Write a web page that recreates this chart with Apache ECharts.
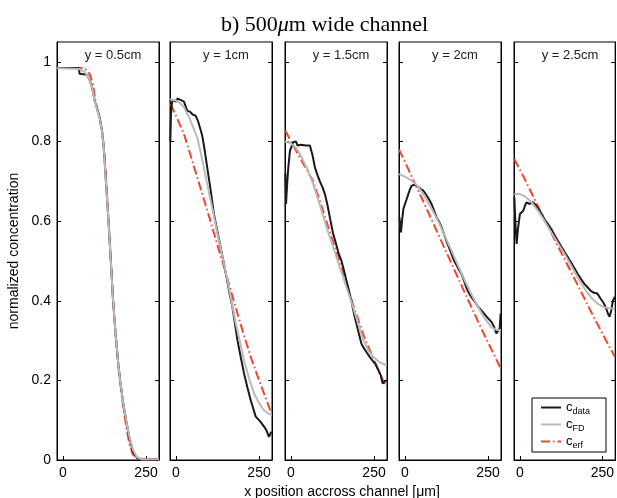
<!DOCTYPE html>
<html>
<head>
<meta charset="utf-8">
<script src="https://cdn.jsdelivr.net/npm/echarts@6/dist/echarts.min.js"></script>
<style>
  html, body { margin: 0; padding: 0; background: #fff; }
  #chart { width: 617px; height: 498px; }
</style>
</head>
<body>
<div id="chart"></div>
<script>
// labels and ticks
var panelLabels = ["y = 0.5cm", "y = 1cm", "y = 1.5cm", "y = 2cm", "y = 2.5cm"];
var xTicks = [0, 250];
var yTicks = [0, 0.2, 0.4, 0.6, 0.8, 1];

// y = 0.5cm   [x position (um), normalized concentration]
var data05 = [[-18,0.985],[48,0.985],[50,0.97],[72,0.968],[80,0.955],[88,0.935],[96,0.9],[104,0.88],[112,0.855],[118,0.825],[124,0.77],[130,0.69],[137,0.6],[144,0.5],[150,0.41],[158,0.32],[166,0.245],[172,0.2],[181,0.145],[190,0.1],[200,0.055],[211,0.02],[223,0.005],[235,0.002],[289,0.002]];
var fd05 = [[-18,0.984],[50,0.982],[65,0.975],[78,0.96],[88,0.935],[96,0.9],[104,0.878],[112,0.853],[118,0.823],[124,0.77],[130,0.69],[137,0.6],[144,0.5],[150,0.41],[158,0.32],[166,0.245],[172,0.2],[181,0.145],[190,0.1],[200,0.058],[211,0.025],[223,0.007],[235,0.002],[289,0.002]];
var erf05 = [[-18,0.985],[60,0.985],[70,0.98],[80,0.97],[90,0.945],[98,0.9],[106,0.87],[114,0.84],[120,0.81],[126,0.76],[132,0.68],[138,0.59],[145,0.49],[151,0.4],[159,0.31],[167,0.235],[173,0.19],[182,0.13],[190,0.085],[200,0.04],[210,0.014],[220,0.004],[230,0.001],[289,0.001]];

// y = 1cm
var data10 = [[-17,0.8],[-15,0.87],[-12,0.898],[-8,0.905],[0,0.9],[5,0.908],[12,0.905],[18,0.908],[24,0.9],[29,0.895],[34,0.877],[42,0.875],[50,0.868],[59,0.865],[66,0.852],[72,0.835],[79,0.815],[86,0.78],[94,0.735],[104,0.68],[114,0.619],[124,0.577],[134,0.535],[144,0.495],[154,0.451],[162,0.415],[170,0.384],[177,0.345],[185,0.301],[195,0.258],[205,0.217],[215,0.182],[225,0.15],[233,0.128],[240,0.109],[250,0.1],[258,0.092],[265,0.084],[272,0.075],[280,0.058],[284,0.057],[287,0.071]];
var fd10 = [[-18,0.906],[0,0.903],[10,0.898],[24,0.886],[40,0.86],[52,0.835],[64,0.81],[79,0.755],[94,0.693],[110,0.63],[125,0.568],[140,0.51],[155,0.451],[168,0.395],[180,0.343],[193,0.295],[205,0.25],[220,0.205],[235,0.167],[250,0.143],[265,0.125],[278,0.117],[289,0.113]];
var erf10 = [[-16,0.894],[4,0.857],[24,0.819],[44,0.765],[64,0.71],[84,0.655],[104,0.6],[124,0.542],[145,0.484],[165,0.426],[185,0.368],[205,0.312],[225,0.259],[245,0.212],[265,0.167],[278,0.138],[287,0.117]];

// y = 1.5cm
var data15 = [[-17,0.72],[-15,0.643],[-11,0.7],[-8,0.735],[-3,0.777],[7,0.799],[15,0.8],[20,0.79],[30,0.792],[45,0.79],[57,0.79],[65,0.765],[72,0.735],[80,0.715],[87,0.7],[95,0.685],[102,0.668],[110,0.64],[118,0.605],[127,0.568],[135,0.545],[143,0.52],[152,0.5],[160,0.475],[167,0.45],[172,0.434],[182,0.398],[192,0.359],[202,0.325],[212,0.292],[220,0.28],[228,0.27],[237,0.259],[245,0.25],[255,0.24],[263,0.226],[270,0.213],[276,0.192],[280,0.187],[286,0.2]];
var fd15 = [[-18,0.8],[0,0.795],[14,0.785],[27,0.769],[47,0.735],[67,0.693],[87,0.64],[107,0.585],[127,0.535],[147,0.484],[167,0.434],[187,0.384],[203,0.34],[218,0.301],[233,0.275],[248,0.259],[268,0.245],[288,0.238]];
var erf15 = [[-17,0.827],[10,0.785],[40,0.74],[67,0.7],[95,0.63],[122,0.56],[150,0.49],[187,0.39],[220,0.31],[245,0.26],[267,0.217],[287,0.184]];

// y = 2cm
var data20 = [[-17,0.61],[-12,0.572],[-9,0.6],[-5,0.63],[0,0.643],[5,0.655],[10,0.668],[15,0.68],[20,0.689],[25,0.692],[32,0.692],[40,0.686],[48,0.68],[55,0.677],[65,0.665],[72,0.655],[80,0.643],[88,0.625],[95,0.61],[102,0.6],[110,0.585],[118,0.566],[125,0.55],[132,0.535],[140,0.518],[148,0.5],[155,0.49],[162,0.478],[170,0.468],[178,0.45],[185,0.432],[192,0.42],[200,0.409],[210,0.398],[220,0.385],[230,0.376],[240,0.366],[250,0.356],[260,0.347],[268,0.335],[275,0.318],[280,0.315],[285,0.33],[288,0.368]];
var fd20 = [[-18,0.718],[0,0.712],[20,0.702],[38,0.688],[55,0.668],[78,0.635],[100,0.6],[120,0.563],[140,0.526],[160,0.488],[180,0.451],[200,0.416],[220,0.384],[240,0.356],[260,0.334],[275,0.327],[289,0.326]];
var erf20 = [[-18,0.78],[5,0.74],[30,0.694],[55,0.65],[80,0.604],[105,0.558],[130,0.512],[155,0.466],[180,0.42],[205,0.375],[230,0.33],[255,0.287],[275,0.252],[289,0.228]];

// y = 2.5cm
var data25 = [[-17,0.66],[-14,0.6],[-10,0.543],[-6,0.58],[0,0.618],[5,0.622],[10,0.626],[15,0.638],[20,0.647],[25,0.645],[30,0.643],[38,0.648],[45,0.643],[52,0.635],[60,0.626],[70,0.612],[78,0.6],[85,0.593],[95,0.58],[105,0.565],[115,0.551],[125,0.537],[135,0.523],[145,0.51],[155,0.496],[165,0.482],[175,0.468],[185,0.455],[195,0.443],[205,0.434],[215,0.425],[225,0.42],[235,0.418],[245,0.405],[255,0.393],[262,0.38],[267,0.368],[272,0.36],[277,0.375],[282,0.4],[288,0.41]];
var fd25 = [[-17,0.668],[0,0.668],[15,0.662],[35,0.648],[55,0.626],[75,0.6],[95,0.572],[115,0.545],[135,0.518],[155,0.489],[175,0.459],[195,0.432],[215,0.409],[235,0.393],[255,0.384],[270,0.381],[288,0.38]];
var erf25 = [[-17,0.756],[15,0.705],[55,0.637],[95,0.57],[135,0.505],[175,0.44],[215,0.374],[255,0.31],[288,0.259]];

var panelData = [data05, data10, data15, data20, data25];
var panelFD = [fd05, fd10, fd15, fd20, fd25];
var panelErf = [erf05, erf10, erf15, erf20, erf25];

var FONT = "Liberation Sans, Arial, sans-serif";
var panelLeft = [57, 170, 285, 399, 514];
var panelWidth = 102;

var grids = [], xAxes = [], yAxes = [], series = [];
var titles = [
  {
    text: "{a|b) 500}{i|μ}{a|m wide channel}",
    left: 216, top: 9,
    textStyle: {
      rich: {
        a: { fontFamily: "Liberation Serif", fontSize: 22, fontWeight: "normal", color: "#000" },
        i: { fontFamily: "Liberation Serif", fontSize: 22, fontWeight: "normal", fontStyle: "italic", color: "#000" }
      }
    }
  },
  {
    text: "x position accross channel [μm]",
    left: 337, top: 480, textAlign: "center",
    textStyle: { fontFamily: FONT, fontSize: 14, fontWeight: "normal", color: "#000" }
  }
];

for (var i = 0; i < 5; i++) {
  grids.push({
    left: panelLeft[i], top: 42, width: panelWidth, height: 418,
    show: true, borderColor: "#000", borderWidth: 1, backgroundColor: "#fff"
  });
  titles.push({
    text: panelLabels[i],
    left: panelLeft[i] + panelWidth / 2, top: 44, textAlign: "center",
    textStyle: { fontFamily: FONT, fontSize: 13, fontWeight: "normal", color: "#222" }
  });
  xAxes.push({
    type: "value", gridIndex: i, min: -18, max: 289,
    axisLine: { onZero: false, lineStyle: { color: "#000", width: 1 } },
    axisTick: { inside: true, length: 4, customValues: xTicks, lineStyle: { color: "#000" } },
    axisLabel: { customValues: xTicks, color: "#000", fontSize: 14, fontFamily: FONT, margin: 6 },
    splitLine: { show: false }
  });
  yAxes.push({
    type: "value", gridIndex: i, min: 0, max: 1.05,
    name: i === 0 ? "normalized concentration" : "",
    nameLocation: "middle", nameGap: 36,
    nameTextStyle: { fontFamily: FONT, fontSize: 14, color: "#000" },
    axisLine: { show: true, onZero: false, lineStyle: { color: "#000", width: 1 } },
    axisTick: { inside: true, length: 4, customValues: yTicks, lineStyle: { color: "#000" } },
    axisLabel: {
      show: i === 0, customValues: yTicks, color: "#000", fontSize: 14, fontFamily: FONT, margin: 6
    },
    splitLine: { show: false }
  });
  // right-hand ticks of the boxed axes
  yAxes.push({
    type: "value", gridIndex: i, min: 0, max: 1.05, position: "right",
    axisLine: { show: true, onZero: false, lineStyle: { color: "#000", width: 1 } },
    axisTick: { inside: true, length: 4, customValues: yTicks, lineStyle: { color: "#000" } },
    axisLabel: { show: false },
    splitLine: { show: false }
  });

  series.push({
    name: "c_erf", type: "line", xAxisIndex: i, yAxisIndex: i * 2,
    data: panelErf[i], symbol: "none",
    lineStyle: { color: "#f2472a", width: 2, type: [9, 3, 1.5, 3] },
    itemStyle: { color: "#f2472a" }
  });
  series.push({
    name: "c_data", type: "line", xAxisIndex: i, yAxisIndex: i * 2,
    data: panelData[i], symbol: "none",
    lineStyle: { color: "#1a1a1a", width: 2 },
    itemStyle: { color: "#1a1a1a" }
  });
  series.push({
    name: "c_FD", type: "line", xAxisIndex: i, yAxisIndex: i * 2,
    data: panelFD[i], symbol: "none",
    lineStyle: { color: "#bababa", width: 2 },
    itemStyle: { color: "#bababa" }
  });
}

var chart = echarts.init(document.getElementById("chart"));
chart.setOption({
  animation: false,
  backgroundColor: "#fff",
  title: titles,
  grid: grids,
  xAxis: xAxes,
  yAxis: yAxes,
  legend: {
    data: ["c_data", "c_FD", "c_erf"],
    orient: "vertical",
    left: 532, top: 398,
    padding: [1, 16, 2, 8],
    itemGap: 0,
    itemWidth: 20, itemHeight: 10,
    itemTextGap: 6,
    itemStyle: { opacity: 0 },
    selectedMode: false,
    backgroundColor: "#fff",
    borderColor: "#000",
    borderWidth: 1,
    formatter: function (name) {
      var p = name.split("_");
      return "{c|" + p[0] + "}{s|" + p[1] + "}";
    },
    textStyle: {
      rich: {
        c: { fontFamily: FONT, fontSize: 13, lineHeight: 18, color: "#000" },
        s: { fontFamily: FONT, fontSize: 9, lineHeight: 10, padding: [8, 0, 0, 0], color: "#000" }
      }
    }
  },
  series: series
});
</script>
</body>
</html>
